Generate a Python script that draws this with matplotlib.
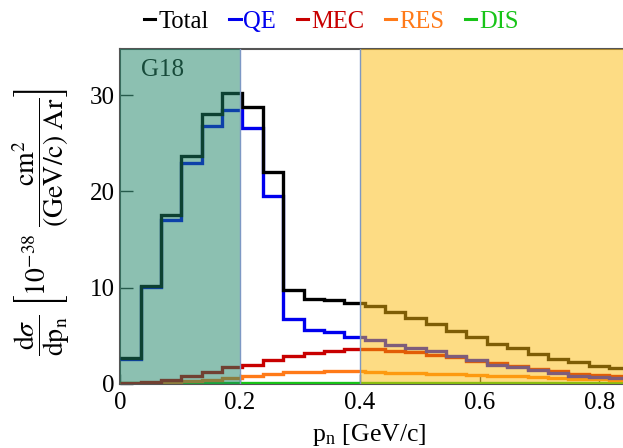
import numpy as np
import matplotlib
matplotlib.use("Agg")
import matplotlib.pyplot as plt
from matplotlib.lines import Line2D

plt.rcParams['font.family'] = ['Liberation Serif', 'DejaVu Serif']
plt.rcParams['mathtext.fontset'] = 'stix'

# bin edges (GeV/c)
bin_width = 0.034
n_bins = 26
edges = np.arange(n_bins + 1) * bin_width

total = [2.7, 10.2, 17.5, 23.7, 28.0, 30.25, 28.8, 22.05, 9.8, 8.85, 8.67, 8.45, 8.15,
         7.5, 6.85, 6.2, 5.55, 4.88, 4.18, 3.69, 3.14, 2.62, 2.24, 1.9, 1.62, 1.4]
qe = [2.6, 10.1, 17.0, 22.9, 26.8, 28.45, 26.55, 19.55, 6.8, 5.6, 5.35, 4.83, 4.6,
      4.08, 3.73, 3.38, 2.86, 2.45, 2.0, 1.72, 1.41, 1.14, 0.86, 0.73, 0.58, 0.5]
mec = [0.05, 0.24, 0.45, 0.79, 1.24, 1.72, 1.95, 2.45, 2.95, 3.2, 3.45, 3.6, 3.6,
       3.45, 3.28, 3.04, 2.76, 2.42, 2.18, 1.83, 1.56, 1.31, 1.07, 0.9, 0.79, 0.7]
res = [0.0, 0.05, 0.15, 0.3, 0.45, 0.65, 0.85, 1.02, 1.2, 1.28, 1.3, 1.3, 1.22,
       1.18, 1.13, 1.07, 1.0, 0.93, 0.85, 0.78, 0.7, 0.62, 0.56, 0.5, 0.45, 0.4]
dis = [0.06] * n_bins

series = [("Total", total, "#000000"), ("QE", qe, "#0000ee"), ("MEC", mec, "#c80000"),
          ("RES", res, "#ff7a18"), ("DIS", dis, "#18c418")]

fig = plt.figure(figsize=(6.23, 4.48), dpi=100)
ax = fig.add_axes([0.193, 0.1429, 0.9615, 0.748])

for name, vals, col in series[::-1]:
    v = np.asarray(vals)
    ax.stairs(v, edges, color=col, lw=2.4, baseline=None, zorder=3)

ax.axvspan(0.0, 0.2, facecolor=(27/255, 131/255, 101/255), alpha=0.5, zorder=4,
           edgecolor='none')
ax.axvspan(0.4, 1.2, facecolor=(253/255, 186/255, 10/255), alpha=0.5, zorder=4,
           edgecolor='none')
for xv in (0.2, 0.4):
    ax.axvline(xv, color='#7d98c4', lw=1.0, zorder=5)

ax.text(0.034, 32.0, "G18", fontsize=18, color='#174a3a', zorder=6)

ax.set_xlim(0, 1.0)
ax.set_ylim(0, 34.8)
ax.set_xticks([0, 0.2, 0.4, 0.6, 0.8])
ax.set_xticklabels(["0", "0.2", "0.4", "0.6", "0.8"])
ax.set_yticks([0, 10, 20, 30])
ax.tick_params(direction='in', width=1, labelsize=18, color='#333333')
ax.tick_params(axis='x', pad=6, length=7.5)
ax.tick_params(axis='y', pad=4, length=9.5)
for s in ax.spines.values():
    s.set_color('#555555')
    s.set_linewidth(1.5)
    s.set_zorder(2.5)

ax.set_xlabel(r"p$_\mathregular{n}$ [GeV/c]", fontsize=18.5, labelpad=0)
ax.xaxis.set_label_coords(0.415, -0.112)

fig.text(0.066, 0.505,
         r"$\dfrac{\mathrm{d}\sigma}{\mathrm{dp_n}}\ \left[10^{-38}\ "
         r"\dfrac{\mathrm{cm}^2}{\mathrm{(GeV/c)}\ \mathrm{Ar}}\right]$",
         rotation=90, va='center', ha='center', fontsize=20)

handles = [Line2D([0], [0], color=c, lw=2.2) for _, _, c in series]
labels = [n for n, _, _ in series]
leg = fig.legend(handles, labels, loc='center', bbox_to_anchor=(0.532, 0.952), ncol=5,
                 frameon=False, handlelength=0.45, handletextpad=0.12, columnspacing=0.85,
                 fontsize=17.7, labelcolor=[c for _, _, c in series])

fig.savefig("out.png", dpi=100)
